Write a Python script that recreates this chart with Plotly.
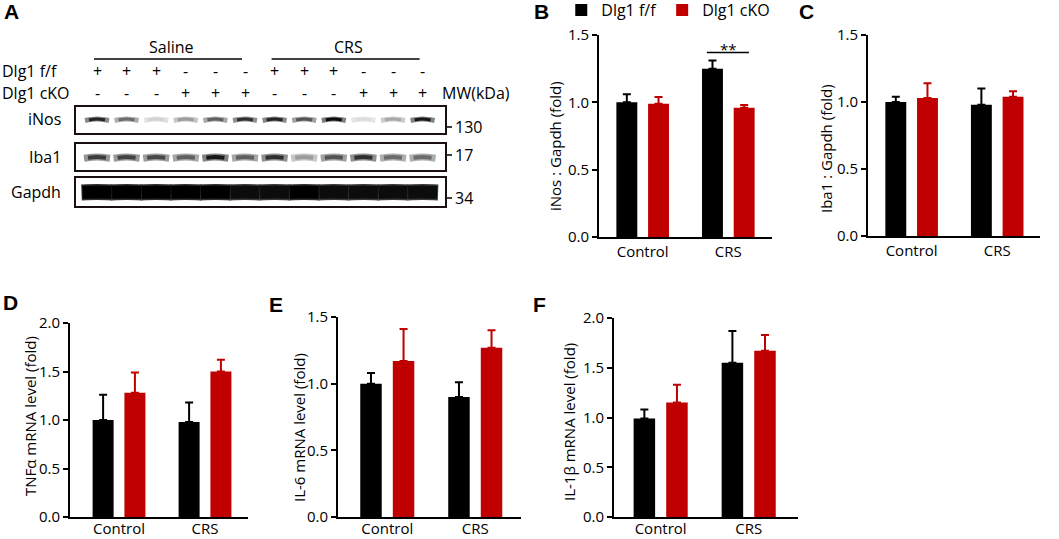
import plotly.graph_objects as go

W, H = 1059, 539
FONT = "Open Sans"
BLACK = "#000000"
RED = "#C00000"

# ---- data ----
groups = ["Control", "CRS"]
series_names = ["Dlg1 f/f", "Dlg1 cKO"]

inos_ff = [1.00, 1.25]
inos_ff_top = [1.06, 1.31]
inos_cko = [0.99, 0.96]
inos_cko_top = [1.04, 0.98]

iba1_ff = [1.00, 0.98]
iba1_ff_top = [1.04, 1.10]
iba1_cko = [1.03, 1.04]
iba1_cko_top = [1.14, 1.08]

tnf_ff = [1.00, 0.98]
tnf_ff_top = [1.26, 1.18]
tnf_cko = [1.28, 1.50]
tnf_cko_top = [1.49, 1.62]

il6_ff = [1.00, 0.90]
il6_ff_top = [1.08, 1.01]
il6_cko = [1.17, 1.27]
il6_cko_top = [1.41, 1.40]

il1b_ff = [0.99, 1.55]
il1b_ff_top = [1.08, 1.87]
il1b_cko = [1.15, 1.67]
il1b_cko_top = [1.33, 1.83]

# western blot (panel A)
lane_ff = ["+", "+", "+", "-", "-", "-", "+", "+", "+", "-", "-", "-"]
lane_cko = ["-", "-", "-", "+", "+", "+", "-", "-", "-", "+", "+", "+"]
treatments = ["Saline", "CRS"]
blot_rows = ["iNos", "Iba1", "Gapdh"]
blot_mw = ["130", "17", "34"]
inos_band = [0.85, 0.55, 0.12, 0.35, 0.6, 0.8, 0.85, 0.65, 0.95, 0.08, 0.3, 0.9]
iba1_band = [0.75, 0.72, 0.7, 0.6, 0.9, 0.6, 0.8, 0.35, 0.65, 0.8, 0.55, 0.55]
gapdh_band = [1.0, 1.0, 1.0, 1.0, 1.0, 0.95, 0.95, 1.0, 0.95, 0.95, 0.95, 0.95]


def dx(p0, p1):
    return [p0 / W, p1 / W]


def dy(top, bottom):
    return [1 - bottom / H, 1 - top / H]


def txt(text, px, py, size=15, xanchor="center", **kw):
    # place a text by its pixel position on the page
    fig.add_annotation(x=px / W, y=1 - py / H, xref="paper", yref="paper", text=text,
                       showarrow=False, xanchor=xanchor, yanchor="middle",
                       font=dict(size=size, color=BLACK, family=FONT), **kw)


fig = go.Figure()
xpos = list(range(len(groups)))

# ---- bar panels ----
panels = [
    # axis suffix, title, ff, ff_top, cko, cko_top, ymax, xdom px, ydom px, xrange, title pos px, label shift
    ("", "iNos : Gapdh (fold)", inos_ff, inos_ff_top, inos_cko, inos_cko_top, 1.5, (599, 772), (35, 237), [-0.51, 1.51], (555, 146), 0),
    ("2", "Iba1 : Gapdh (fold)", iba1_ff, iba1_ff_top, iba1_cko, iba1_cko_top, 1.5, (868, 1040), (35, 236), [-0.51, 1.5], (826, 149), 0),
    ("3", "TNFα mRNA level (fold)", tnf_ff, tnf_ff_top, tnf_cko, tnf_cko_top, 2.0, (70, 248), (323, 517), [-0.57, 1.5], (30, 416), -3),
    ("4", "IL-6 mRNA level (fold)", il6_ff, il6_ff_top, il6_cko, il6_cko_top, 1.5, (338, 521), (317, 517), [-0.56, 1.52], (299, 428), -3),
    ("5", "IL-1β mRNA level (fold)", il1b_ff, il1b_ff_top, il1b_cko, il1b_cko_top, 2.0, (614, 798), (318, 517), [-0.53, 1.56], (569, 422), -3),
]

for i, (sfx, ytitle, ff, fft, cko, ckot, ymax, xd, yd, xr, tp, shift) in enumerate(panels):
    for name, vals, tops, col in [(series_names[0], ff, fft, BLACK), (series_names[1], cko, ckot, RED)]:
        fig.add_trace(go.Bar(
            x=xpos, y=vals, name=name, marker=dict(color=col, line=dict(width=0)),
            error_y=dict(type="data", symmetric=False,
                         array=[t - v for t, v in zip(tops, vals)], arrayminus=[0] * len(vals),
                         color=col, thickness=2, width=4),
            xaxis="x" + sfx, yaxis="y" + sfx,
            showlegend=(i == 0), legendgroup=name,
        ))
    fig.layout["xaxis" + sfx] = dict(
        domain=dx(*xd), anchor="y" + sfx, range=xr, showline=True, linewidth=2,
        linecolor=BLACK, ticks="", showgrid=False, zeroline=False, automargin=False,
        tickvals=xpos, ticktext=groups, ticklabelstandoff=shift,
        tickfont=dict(size=15, color=BLACK, family=FONT), fixedrange=True)
    fig.layout["yaxis" + sfx] = dict(
        domain=dy(*yd), anchor="x" + sfx, range=[0, ymax], dtick=0.5, tickformat=".1f",
        showline=True, linewidth=2, linecolor=BLACK, ticks="outside", ticklen=5,
        tickwidth=2, tickcolor=BLACK, showgrid=False, zeroline=False, automargin=False,
        tickfont=dict(size=15, color=BLACK, family=FONT), fixedrange=True)
    txt(ytitle, tp[0], tp[1], size=15, textangle=-90)

# significance bar on panel B (CRS group)
sig_group = "CRS"
sig_y = 1.37
gi = groups.index(sig_group)
fig.add_trace(go.Scatter(x=[gi - 0.25, gi + 0.24], y=[sig_y, sig_y], mode="lines",
                         line=dict(color=BLACK, width=1.5), xaxis="x", yaxis="y",
                         showlegend=False, hoverinfo="skip"))
fig.add_annotation(x=gi, y=sig_y, xref="x", yref="y", text="**", showarrow=False,
                   xanchor="center", yanchor="middle", yshift=4,
                   font=dict(size=15, color=BLACK, family=FONT))

# ---- panel A: western blot, axes in pixel units ----
fig.layout["xaxis6"] = dict(domain=dx(0, 519), anchor="y6", range=[0, 519], visible=False, fixedrange=True)
fig.layout["yaxis6"] = dict(domain=dy(0, 270), anchor="x6", range=[270, 0], visible=False, fixedrange=True)

lane_x = [97 + k * 29.6 for k in range(len(lane_ff))]
row_y = [119, 157, 192]
box_y = [(106, 134), (143, 171), (177, 207)]
mw_y = [127, 155, 198]
band_len = [22, 24, 29]
band_inset = [3, 3, 0]
band_core = [3, 4, 13]
band_halo = [5, 7, 16]
band_bow = [1.5, 1.2, 0.4]
halo_mix = [0.5, 0.5, 0.8]


def grey(v):
    g = int(round(240 * (1 - v)))
    return f"rgb({g},{g},{g})"


blots = [inos_band, iba1_band, gapdh_band]
# soft halo of every band first, then the dark cores on top (slightly bowed)
for layer in ("halo", "core"):
    for r, bands in enumerate(blots):
        for k, v in enumerate(bands):
            cx, cy, hl = lane_x[k], row_y[r], band_len[r] / 2
            if layer == "halo":
                xs = [cx - hl - 1, cx, cx + hl + 1]
                ys = [cy + band_bow[r], cy, cy + band_bow[r]]
                ln = dict(color=grey(v * halo_mix[r]), width=band_halo[r], shape="spline")
            else:
                xs = [cx - hl + band_inset[r], cx, cx + hl - band_inset[r]]
                ys = [cy + band_bow[r] * 0.7, cy, cy + band_bow[r] * 0.7]
                ln = dict(color=grey(v), width=band_core[r], shape="spline")
            fig.add_trace(go.Scatter(x=xs, y=ys, mode="lines", line=ln, xaxis="x6", yaxis="y6",
                                     showlegend=False, hoverinfo="skip"))

for r in range(len(blot_rows)):
    fig.add_shape(type="rect", xref="x6", yref="y6", x0=75, x1=446, y0=box_y[r][0], y1=box_y[r][1],
                  line=dict(color="#1a1010", width=2))
    txt(blot_rows[r], 63, row_y[r], size=16, xanchor="right")
    fig.add_shape(type="line", xref="x6", yref="y6", x0=447, x1=452, y0=mw_y[r], y1=mw_y[r],
                  line=dict(color=BLACK, width=1.5))
    txt(blot_mw[r], 453, mw_y[r], size=16, xanchor="left")

for k in range(len(lane_ff)):
    txt(lane_ff[k], lane_x[k], 71, size=16)
    txt(lane_cko[k], lane_x[k], 93, size=16)

for t, (a, b) in zip(treatments, [(0, 5), (6, 11)]):
    fig.add_shape(type="line", xref="x6", yref="y6", x0=lane_x[a] - 3, x1=lane_x[b] - 3, y0=59, y1=59,
                  line=dict(color=BLACK, width=1.5))
    txt(t, (lane_x[a] + lane_x[b]) / 2, 47, size=16)

txt("Dlg1 f/f", 0, 71, size=16, xanchor="left")
txt("Dlg1 cKO", 0, 93, size=16, xanchor="left")
txt("MW(kDa)", 440, 93, size=16, xanchor="left")

# panel letters
for letter, px, py in [("A", 2, 12), ("B", 532, 12), ("C", 797, 12), ("D", 1, 302), ("E", 267, 304), ("F", 531, 304)]:
    fig.add_annotation(x=px / W, y=1 - py / H, xref="paper", yref="paper", text=f"<b>{letter}</b>",
                       showarrow=False, xanchor="left", yanchor="middle",
                       font=dict(size=21, color=BLACK, family="Liberation Sans"))

fig.update_layout(
    width=W, height=H, margin=dict(l=0, r=0, t=0, b=0, autoexpand=False),
    paper_bgcolor="white", plot_bgcolor="white",
    barmode="group", bargap=0.26, bargroupgap=0.34,
    font=dict(family=FONT, color=BLACK),
    legend=dict(orientation="h", x=0.53, y=1.013, xanchor="left", yanchor="top",
                font=dict(size=16, color=BLACK, family=FONT), itemwidth=30,
                bgcolor="rgba(0,0,0,0)", tracegroupgap=0),
)

fig.write_html("out.html", config={"displayModeBar": False},
               post_script="document.body.style.margin='0px';")
